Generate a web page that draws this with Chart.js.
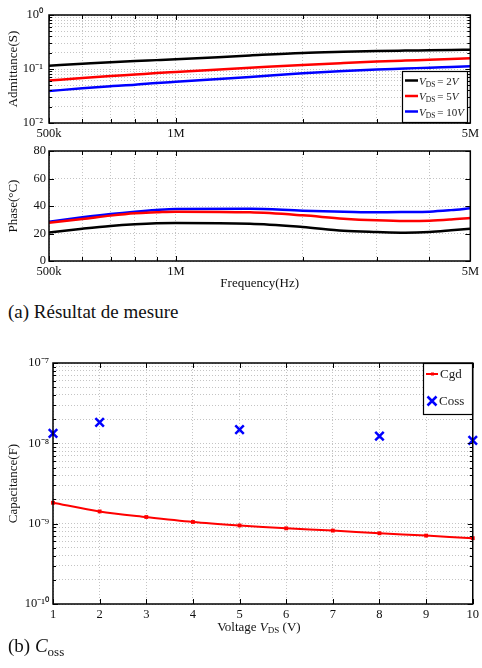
<!DOCTYPE html>
<html>
<head>
<meta charset="utf-8">
<script src="https://cdn.jsdelivr.net/npm/chart.js@4.4.0/dist/chart.umd.min.js"></script>
<style>
  html, body { margin: 0; padding: 0; background: #fff; }
  body { width: 482px; height: 668px; position: relative; overflow: hidden;
         font-family: 'Liberation Serif', 'Times New Roman', serif; }
  canvas { position: absolute; left: 0; }
  .caption { position: absolute; left: 8px; font-size: 19px; line-height: 1; color: #111; white-space: nowrap; }
  .caption sub { font-size: 13px; vertical-align: -4px; line-height: 0; }
</style>
</head>
<body>
<canvas id="admChart" width="482" height="140" style="top:0"></canvas>
<canvas id="phaseChart" width="482" height="155" style="top:140px"></canvas>
<div class="caption" style="top:302px">(a) Résultat de mesure</div>
<canvas id="capChart" width="482" height="310" style="top:330px"></canvas>
<div class="caption" style="top:636px">(b) <i>C</i><sub>oss</sub></div>

<script>
// --- données ---
const freqs = [5e5, 6e5, 7e5, 8e5, 9e5, 1e6, 1.5e6, 2e6, 2.5e6, 3e6, 3.5e6, 4e6, 4.5e6, 5e6];
const vdsLevels = [2, 5, 10];

// admittance (S)
const adm2V  = [0.115, 0.125, 0.134, 0.141, 0.146, 0.151, 0.178, 0.198, 0.208, 0.215, 0.219, 0.222, 0.225, 0.228];
const adm5V  = [0.061, 0.068, 0.074, 0.079, 0.084, 0.088, 0.105, 0.119, 0.129, 0.137, 0.143, 0.148, 0.153, 0.158];
const adm10V = [0.039, 0.044, 0.048, 0.051, 0.055, 0.058, 0.071, 0.083, 0.092, 0.098, 0.102, 0.106, 0.109, 0.112];

// phase
const phase2V  = [20.8, 23.5, 25.5, 26.7, 27.4, 27.6, 27.1, 24.7, 22.0, 21.1, 20.6, 21.1, 22.3, 23.5];
const phase5V  = [27.9, 30.5, 33.0, 34.7, 35.4, 35.9, 35.4, 33.2, 30.8, 29.6, 29.1, 29.3, 30.2, 31.3];
const phase10V = [28.6, 31.8, 34.2, 35.9, 37.1, 37.8, 38.0, 36.6, 35.9, 35.4, 35.6, 35.9, 37.0, 38.3];

// capacité
const voltages = [1, 2, 3, 4, 5, 6, 7, 8, 9, 10];
const cgd = [1.82e-9, 1.42e-9, 1.21e-9, 1.05e-9, 0.95e-9, 0.875e-9, 0.82e-9, 0.76e-9, 0.71e-9, 0.66e-9];
const cossVoltages = [1, 2, 5, 8, 10];
const coss = [1.33e-8, 1.82e-8, 1.48e-8, 1.23e-8, 1.09e-8];

// ticks
const freqGrid = [5e5, 6e5, 7e5, 8e5, 9e5, 1e6, 2e6, 3e6, 4e6, 5e6];
const freqLabelVals = [5e5, 1e6, 5e6];
const freqLabelText = ['500k', '1M', '5M'];
const admDecades = [0.01, 0.1, 1];
const capDecades = [1e-10, 1e-9, 1e-8, 1e-7];

const serif = "'Liberation Serif', 'Times New Roman', serif";
Chart.defaults.font.family = serif;
Chart.defaults.color = '#111';

const SUP = {'-': '⁻', '0': '⁰', '1': '¹', '2': '²', '3': '³', '4': '⁴', '5': '⁵', '6': '⁶', '7': '⁷', '8': '⁸', '9': '⁹'};
function decadeLabel(v) {
    const e = Math.log10(v);
    if (Math.abs(e - Math.round(e)) > 1e-6) return '';
    return '10' + String(Math.round(e)).split('').map(c => SUP[c]).join('');
}
function logTicks(decades) {
    const out = [];
    decades.forEach((d, i) => {
        const top = i === decades.length - 1 ? 1 : 9;
        for (let m = 1; m <= top; m++) out.push({ value: m * d });
    });
    return out;
}
function freqLabel(v) {
    const i = freqLabelVals.findIndex(f => Math.abs(f - v) < 1);
    return i >= 0 ? freqLabelText[i] : '';
}
const pts = (xs, ys) => xs.map((x, i) => ({ x: x, y: ys[i] }));

const gridCfg = { color: '#c4c4c4', lineWidth: 1, drawTicks: false };
const borderCfg = { display: false, dash: [1, 2] };
const tickFont = { size: 12.5 };

// cadre noir + petites graduations vers l'intérieur
const frame = {
    id: 'frame',
    afterDatasetsDraw(chart) {
        const { ctx, chartArea: a } = chart;
        const xs = chart.scales.x, ys = chart.scales.y;
        ctx.save();
        ctx.strokeStyle = '#000';
        ctx.lineWidth = 1;
        ctx.beginPath();
        xs.ticks.forEach(t => {
            const p = Math.round(xs.getPixelForValue(t.value)) + 0.5;
            const len = t.label ? 5 : 4;
            ctx.moveTo(p, a.bottom); ctx.lineTo(p, a.bottom - len);
            ctx.moveTo(p, a.top); ctx.lineTo(p, a.top + len);
        });
        ys.ticks.forEach(t => {
            const p = Math.round(ys.getPixelForValue(t.value)) + 0.5;
            const len = t.label ? 5 : 3;
            ctx.moveTo(a.left, p); ctx.lineTo(a.left + len, p);
            ctx.moveTo(a.right, p); ctx.lineTo(a.right - len, p);
        });
        ctx.stroke();
        ctx.lineWidth = 1.5;
        ctx.strokeRect(a.left, a.top, a.right - a.left, a.bottom - a.top);
        ctx.restore();
    }
};

function drawVds(ctx, x, y, n) {
    const base = y + 4;
    ctx.fillStyle = '#222';
    ctx.textAlign = 'left';
    ctx.textBaseline = 'alphabetic';
    ctx.font = 'italic 11px ' + serif;
    ctx.fillText('V', x, base); x += ctx.measureText('V').width;
    ctx.font = '7.5px ' + serif;
    ctx.fillText('DS', x, base + 2); x += ctx.measureText('DS').width + 2;
    ctx.font = '11px ' + serif;
    const s = '= ' + n;
    ctx.fillText(s, x, base); x += ctx.measureText(s).width;
    ctx.font = 'italic 11px ' + serif;
    ctx.fillText('V', x, base);
}

const vdsLegend = {
    id: 'vdsLegend',
    afterDraw(chart) {
        const { ctx, chartArea: a } = chart;
        const w = 65, h = 51;
        const x0 = Math.round(a.right - 3 - w), y0 = Math.round(a.bottom - 1 - h);
        ctx.save();
        ctx.fillStyle = '#fff';
        ctx.fillRect(x0, y0, w, h);
        ctx.strokeStyle = '#000';
        ctx.lineWidth = 1.2;
        ctx.strokeRect(x0 + 0.5, y0 + 0.5, w, h);
        chart.data.datasets.forEach((ds, i) => {
            const y = y0 + 9.5 + i * 15.5;
            ctx.strokeStyle = ds.borderColor;
            ctx.lineWidth = 2.5;
            ctx.beginPath(); ctx.moveTo(x0 + 3, y); ctx.lineTo(x0 + 16, y); ctx.stroke();
            drawVds(ctx, x0 + 17, y, vdsLevels[i]);
        });
        ctx.restore();
    }
};

const capLegend = {
    id: 'capLegend',
    afterDraw(chart) {
        const { ctx, chartArea: a } = chart;
        const w = 50, h = 51;
        const x0 = Math.round(a.right - w), y0 = Math.round(a.top);
        ctx.save();
        ctx.fillStyle = '#fff';
        ctx.fillRect(x0, y0, w, h);
        ctx.strokeStyle = '#000';
        ctx.lineWidth = 1.2;
        ctx.strokeRect(x0 + 0.5, y0 + 0.5, w - 1, h);
        const rows = [y0 + 11, y0 + 38];
        // Cgd
        const red = chart.data.datasets[0].borderColor;
        ctx.strokeStyle = red; ctx.fillStyle = red; ctx.lineWidth = 2;
        ctx.beginPath(); ctx.moveTo(x0 + 3, rows[0]); ctx.lineTo(x0 + 15, rows[0]); ctx.stroke();
        ctx.fillRect(x0 + 8, rows[0] - 1.5, 3, 3);
        // Coss
        const blue = chart.data.datasets[1].borderColor;
        ctx.strokeStyle = blue; ctx.lineWidth = 2.5;
        const cx = x0 + 9, cy = rows[1], r = 4.5;
        ctx.beginPath();
        ctx.moveTo(cx - r, cy - r); ctx.lineTo(cx + r, cy + r);
        ctx.moveTo(cx + r, cy - r); ctx.lineTo(cx - r, cy + r);
        ctx.stroke();
        ctx.fillStyle = '#222';
        ctx.font = '13px ' + serif;
        ctx.textBaseline = 'middle';
        ctx.textAlign = 'left';
        ctx.fillText(chart.data.datasets[0].label, x0 + 17, rows[0] + 1);
        ctx.fillText(chart.data.datasets[1].label, x0 + 16, rows[1] + 1);
        ctx.restore();
    }
};

// titre de l'axe x avec indice : Voltage V_DS (V)
const voltTitle = {
    id: 'voltTitle',
    afterDraw(chart) {
        const { ctx, chartArea: a } = chart;
        const parts = [
            { t: 'Voltage ', f: '13px ' + serif, dy: 0 },
            { t: 'V', f: 'italic 13px ' + serif, dy: 0 },
            { t: 'DS', f: '9px ' + serif, dy: 2 },
            { t: ' (V)', f: '13px ' + serif, dy: 0 }
        ];
        ctx.save();
        let total = 0;
        parts.forEach(p => { ctx.font = p.f; p.w = ctx.measureText(p.t).width; total += p.w; });
        let x = (a.left + a.right) / 2 - total / 2 - 4;
        const base = a.bottom + 27;
        ctx.fillStyle = '#111';
        ctx.textBaseline = 'alphabetic';
        ctx.textAlign = 'left';
        parts.forEach(p => { ctx.font = p.f; ctx.fillText(p.t, x, base + p.dy); x += p.w; });
        ctx.restore();
    }
};

function freqAxis(height, showTitle) {
    return {
        type: 'logarithmic',
        min: 5e5,
        max: 5e6,
        afterBuildTicks: s => { s.ticks = freqGrid.map(v => ({ value: v })); },
        afterFit: s => { s.height = height; },
        grid: gridCfg,
        border: borderCfg,
        ticks: { autoSkip: false, maxRotation: 0, padding: 3, font: tickFont, callback: v => freqLabel(v) },
        title: { display: showTitle, text: 'Frequency(Hz)', font: { size: 13 }, padding: { top: 0, bottom: 4 } }
    };
}

const lineDs = (label, data, color) => ({
    label: label,
    data: data,
    borderColor: color,
    backgroundColor: color,
    borderWidth: 2.5,
    pointRadius: 0,
    cubicInterpolationMode: 'monotone',
    fill: false
});

// --- admittance ---
new Chart(document.getElementById('admChart'), {
    type: 'line',
    data: {
        datasets: [
            lineDs('VDS = 2V', pts(freqs, adm2V), '#000000'),
            lineDs('VDS = 5V', pts(freqs, adm5V), '#ff0000'),
            lineDs('VDS = 10V', pts(freqs, adm10V), '#0000ff')
        ]
    },
    options: {
        responsive: false,
        animation: false,
        layout: { padding: { top: 15, right: 10, left: 0, bottom: 0 } },
        plugins: { legend: { display: false }, tooltip: { enabled: false } },
        scales: {
            x: freqAxis(17, false),
            y: {
                type: 'logarithmic',
                min: 0.01,
                max: 1,
                afterBuildTicks: s => { s.ticks = logTicks(admDecades); },
                afterFit: s => { s.width = 49; },
                grid: gridCfg,
                border: borderCfg,
                ticks: { autoSkip: false, padding: 6, font: tickFont, callback: v => decadeLabel(v) },
                title: { display: true, text: 'Admittance(S)', font: { size: 13 }, padding: { top: 6, bottom: 0 } }
            }
        }
    },
    plugins: [frame, vdsLegend]
});

// --- phase ---
new Chart(document.getElementById('phaseChart'), {
    type: 'line',
    data: {
        datasets: [
            lineDs('VDS = 2V', pts(freqs, phase2V), '#000000'),
            lineDs('VDS = 5V', pts(freqs, phase5V), '#ff0000'),
            lineDs('VDS = 10V', pts(freqs, phase10V), '#0000ff')
        ]
    },
    options: {
        responsive: false,
        animation: false,
        layout: { padding: { top: 11, right: 10, left: 0, bottom: 0 } },
        plugins: { legend: { display: false }, tooltip: { enabled: false } },
        scales: {
            x: freqAxis(34, true),
            y: {
                min: 0,
                max: 80,
                afterFit: s => { s.width = 49; },
                grid: gridCfg,
                border: borderCfg,
                ticks: { stepSize: 20, padding: 3, font: tickFont },
                title: { display: true, text: 'Phase(°C)', font: { size: 13 }, padding: { top: 6, bottom: 0 } }
            }
        }
    },
    plugins: [frame]
});

// --- capacité ---
new Chart(document.getElementById('capChart'), {
    type: 'line',
    data: {
        datasets: [
            {
                label: 'Cgd',
                data: pts(voltages, cgd),
                borderColor: '#ff0000',
                backgroundColor: '#ff0000',
                borderWidth: 2,
                pointRadius: 1.3,
                pointStyle: 'rect',
                tension: 0.3
            },
            {
                label: 'Coss',
                data: pts(cossVoltages, coss),
                showLine: false,
                borderColor: '#0000ff',
                backgroundColor: '#0000ff',
                borderWidth: 2.5,
                pointStyle: 'crossRot',
                pointRadius: 6
            }
        ]
    },
    options: {
        responsive: false,
        animation: false,
        clip: false,
        layout: { padding: { top: 33, right: 8, left: 0, bottom: 0 } },
        plugins: { legend: { display: false }, tooltip: { enabled: false } },
        scales: {
            x: {
                type: 'linear',
                min: 1,
                max: 10,
                afterFit: s => { s.height = 36; },
                grid: gridCfg,
                border: borderCfg,
                ticks: { stepSize: 1, autoSkip: false, maxRotation: 0, padding: 3, font: tickFont }
            },
            y: {
                type: 'logarithmic',
                min: 1e-10,
                max: 1e-7,
                afterBuildTicks: s => { s.ticks = logTicks(capDecades); },
                afterFit: s => { s.width = 53; },
                grid: gridCfg,
                border: borderCfg,
                ticks: { autoSkip: false, padding: 4, font: tickFont, callback: v => decadeLabel(v) },
                title: { display: true, text: 'Capacitance(F)', font: { size: 13 }, padding: { top: 6, bottom: 0 } }
            }
        }
    },
    plugins: [frame, capLegend, voltTitle]
});
</script>
</body>
</html>
